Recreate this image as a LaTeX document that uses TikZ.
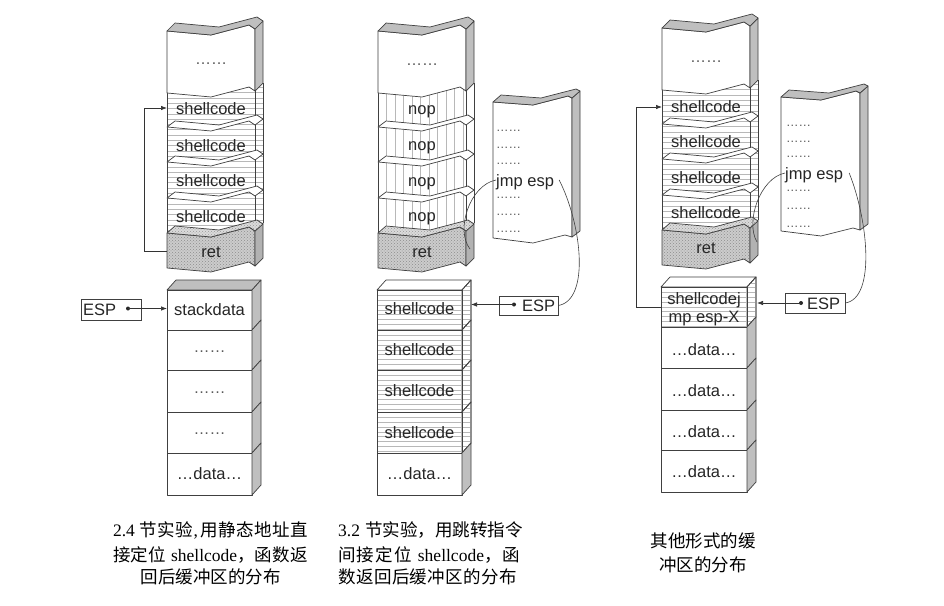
\documentclass[tikz,border=0pt]{standalone}
\usepackage{fontspec}
\setmainfont{Liberation Serif}
\setsansfont{Liberation Sans}
\newfontfamily\cjk{Noto Sans CJK SC}
\newfontfamily\labfont{Liberation Sans}
\usetikzlibrary{patterns,arrows.meta,calc}

\newcommand{\jsep}{\hskip 0pt plus 1fil\relax}
% torn top face band: L, y, depth
\newcommand{\zzband}[3]{(#1,#2) -- ({#1+44},{#2+4}) -- ({#1+82},{#2-6}) -- ({#1+88},{#2-2}) -- ({#1+96},{#2-2-#3}) -- ({#1+90},{#2-6-#3}) -- ({#1+52},{#2+4-#3}) -- ({#1+8},{#2-#3}) -- cycle}
% front face between two torn edges: L, ytop, ybot
\newcommand{\zzfront}[3]{(#1,#2) -- ({#1+44},{#2+4}) -- ({#1+82},{#2-6}) -- ({#1+88},{#2-2}) -- ({#1+88},{#3-2}) -- ({#1+82},{#3-6}) -- ({#1+44},{#3+4}) -- (#1,#3) -- cycle}
% side face: L, ytop, ybot
\newcommand{\zzside}[3]{({#1+88},{#2-2}) -- ({#1+96},{#2-10}) -- ({#1+96},{#3-10}) -- ({#1+88},{#3-2}) -- cycle}

\tikzset{
 outl/.style={draw=black!75, line width=0.7pt, line join=round},
 hatchln/.style={draw=black!28, line width=0.45pt},
 lbl/.style={font=\labfont\fontsize{16.5}{18}\selectfont, text=black!85, inner sep=0pt, text height=12pt, text depth=0pt},
 dotlbl/.style={font=\labfont\fontsize{16}{18}\selectfont, text=black!65, inner sep=0pt},
 smalldot/.style={font=\labfont\fontsize{12.5}{14}\selectfont, text=black!65, inner sep=0pt, anchor=west},
 captxt/.style={font=\fontsize{17.5}{20}\selectfont, inner sep=0pt, anchor=base},
 arr/.style={draw=black!80, line width=0.7pt, -{Latex[length=6pt,width=4.5pt]}},
 link/.style={draw=black!75, line width=0.6pt},
 espbox/.style={draw=black!75, line width=0.7pt, inner sep=0pt},
}

\newcommand{\uppercol}[2]{%
 \begin{scope}
 \clip (#1,80) rectangle ({#1+97},236);
 \ifx h#2
 \foreach \k in {0,...,30} {\draw[hatchln] (#1,{82+5.3*\k}) -- ({#1+96},{82+5.3*\k});}
 \else
 \foreach \k in {1,...,10} {\draw[hatchln] ({#1+8.5*\k},80) -- ({#1+8.5*\k},236);}
 \fi
 \end{scope}
 \draw[outl] (#1,93) -- (#1,233) ({#1+88},91) -- ({#1+88},231) ({#1+96},83) -- ({#1+96},223);
 \foreach \s in {127,162,198} {\filldraw[outl,fill=white] \zzband{#1}{\s}{6};}
 \fill[black!20] \zzfront{#1}{233}{268};
 \fill[pattern=crosshatch dots, pattern color=black!45] \zzfront{#1}{233}{268};
 \draw[outl] \zzfront{#1}{233}{268};
 \filldraw[outl,fill=black!30] \zzside{#1}{233}{268};
 \fill[black!14] \zzband{#1}{233}{7};
 \fill[pattern=crosshatch dots, pattern color=black!40] \zzband{#1}{233}{7};
 \draw[outl] \zzband{#1}{233}{7};
 \filldraw[outl,fill=white] \zzfront{#1}{31}{93};
 \filldraw[outl,fill=black!25] \zzside{#1}{31}{93};
 \filldraw[outl,fill=black!25] \zzband{#1}{31}{8};
}
% lower stack row: L, W, yt, yb, side fill
\newcommand{\lrow}[5]{%
 \filldraw[outl,fill=white] (#1,#3) rectangle ({#1+#2},#4);
 \filldraw[outl,fill=#5] ({#1+#2},#3) -- ({#1+#2+9},{#3-10}) -- ({#1+#2+9},{#4-10}) -- ({#1+#2},#4) -- cycle;}
% hatched lower row
\newcommand{\lhatch}[4]{%
 \filldraw[outl,fill=white] (#1,#3) rectangle ({#1+#2},#4);
 \filldraw[outl,fill=white] ({#1+#2},#3) -- ({#1+#2+9},{#3-10}) -- ({#1+#2+9},{#4-10}) -- ({#1+#2},#4) -- cycle;
 \begin{scope}
 \clip (#1,#3) -- ({#1+#2},#3) -- ({#1+#2+9},{#3-10}) -- ({#1+#2+9},{#4-10}) -- ({#1+#2},#4) -- (#1,#4) -- cycle;
 \foreach \k in {0,...,11} {\draw[hatchln] (#1,{#3-9+4.8*\k}) -- ({#1+#2+10},{#3-9+4.8*\k});}
 \end{scope}
 \draw[outl] (#1,#3) rectangle ({#1+#2},#4);
 \draw[outl] ({#1+#2},#3) -- ({#1+#2+9},{#3-10}) -- ({#1+#2+9},{#4-10}) -- ({#1+#2},#4);}
% top face of lower stack: L, W, yt, fill
\newcommand{\ltop}[4]{%
 \filldraw[outl,fill=#4] (#1,#3) -- ({#1+9},{#3-10}) -- ({#1+#2+9},{#3-10}) -- ({#1+#2},#3) -- cycle;}
% jmp esp block: L, ytop, ybot
\newcommand{\jblock}[3]{%
 \filldraw[outl,fill=white] (#1,#2) -- ({#1+40},{#2+3}) -- ({#1+75},{#2-6}) -- ({#1+79},{#2-4}) -- ({#1+79},{#3-1}) -- ({#1+72},{#3-3}) -- ({#1+40},{#3+5}) -- (#1,#3) -- cycle;
 \filldraw[outl,fill=black!25] ({#1+79},{#2-4}) -- ({#1+87},{#2-11}) -- ({#1+87},{#3-7}) -- ({#1+79},{#3-1}) -- cycle;
 \filldraw[outl,fill=black!25] (#1,#2) -- ({#1+40},{#2+3}) -- ({#1+75},{#2-6}) -- ({#1+79},{#2-4}) -- ({#1+87},{#2-11}) -- ({#1+83},{#2-13}) -- ({#1+48},{#2-4}) -- ({#1+8},{#2-7}) -- cycle;}

\begin{document}
\begin{tikzpicture}[x=1pt,y=-1pt]
\useasboundingbox (0,0) rectangle (944,605);
\fill[white] (0,0) rectangle (944,605);

% ================= Column 1 =================
\uppercol{167}{h}
\node[dotlbl] (c1top) at (211,64) {……};
\node[lbl] (c1s1) at (211,108) {shellcode};
\node[lbl] (c1s2) at (211,145) {shellcode};
\node[lbl] (c1s3) at (211,180) {shellcode};
\node[lbl] (c1s4) at (211,216) {shellcode};
\node[lbl] (c1ret) at (211,251) {ret};
\coordinate (c1retL) at (167,251);
\coordinate (c1s1L) at (167,108);
\draw[arr] (c1retL) -- ++(-23,0) |- (c1s1L);

\ltop{167}{85}{290}{black!25}
\lrow{167}{85}{290}{330}{black!25}
\lrow{167}{85}{330}{370}{black!25}
\lrow{167}{85}{370}{412}{black!25}
\lrow{167}{85}{412}{453}{black!25}
\lrow{167}{85}{453}{495}{black!25}
\node[lbl] (c1sd) at (209.5,309) {stackdata};
\node[dotlbl] (c1d1) at (209.5,352) {……};
\node[dotlbl] (c1d2) at (209.5,393) {……};
\node[dotlbl] (c1d3) at (209.5,434) {……};
\node[lbl] (c1d4) at (209.5,473) {…data…};

\node[espbox, minimum width=60pt, minimum height=21pt] (esp1) at (111,309.5) {};
\node[lbl, anchor=west] (esp1t) at (83,309.5) {ESP};
\coordinate (esp1d) at (128,308.5);
\coordinate (c1sdL) at (167,308.5);
\fill[black!85] (esp1d) circle (2pt);
\draw[arr] (esp1d) -- (c1sdL);

% ================= Column 2 =================
\uppercol{378}{v}
\node[dotlbl] (c2top) at (422,65) {……};
\node[lbl] (c2n1) at (422,108) {nop};
\node[lbl] (c2n2) at (422,144) {nop};
\node[lbl] (c2n3) at (422,180) {nop};
\node[lbl] (c2n4) at (422,215) {nop};
\node[lbl] (c2ret) at (422,251) {ret};

\jblock{493}{102}{238}
\node[smalldot] (j2a) at (496,131) {……};
\node[smalldot] (j2b) at (496,148) {……};
\node[smalldot] (j2c) at (496,164) {……};
\node[lbl, anchor=west] (jmp2) at (496,180) {jmp esp};
\node[smalldot] (j2d) at (496,198) {……};
\node[smalldot] (j2e) at (496,215) {……};
\node[smalldot] (j2f) at (496,232) {……};

\ltop{377}{85}{290}{white}
\lhatch{377}{85}{290}{330}
\lhatch{377}{85}{330}{370}
\lhatch{377}{85}{370}{412}
\lhatch{377}{85}{412}{453}
\lrow{377}{85}{453}{495}{black!25}
\node[lbl] (c2l1) at (419.5,308) {shellcode};
\node[lbl] (c2l2) at (419.5,349) {shellcode};
\node[lbl] (c2l3) at (419.5,390) {shellcode};
\node[lbl] (c2l4) at (419.5,432) {shellcode};
\node[lbl] (c2l5) at (419.5,473) {…data…};

\node[espbox, minimum width=59pt, minimum height=19pt] (esp2) at (528.5,305.5) {};
\node[lbl, anchor=west] (esp2t) at (522,305.5) {ESP};
\coordinate (esp2d) at (514,304.5);
\coordinate (c2l1R) at (471,304.5);
\fill[black!85] (esp2d) circle (2pt);
\draw[arr] (esp2d) -- (c2l1R);

\coordinate (c2retS) at (470,249);
\draw[link] (jmp2.west) .. controls (470,185) and (455,230) .. (c2retS);
\draw[link] ($(jmp2.east)+(5,0)$) .. controls (582,225) and (590,300) .. (esp2.east);

% ================= Column 3 =================
\begin{scope}[shift={(0,-3)}]
\uppercol{662}{h}
\end{scope}
\node[dotlbl] (c3top) at (706,62) {……};
\node[lbl] (c3s1) at (706,106) {shellcode};
\node[lbl] (c3s2) at (706,141) {shellcode};
\node[lbl] (c3s3) at (706,177) {shellcode};
\node[lbl] (c3s4) at (706,212) {shellcode};
\node[lbl] (c3ret) at (706,247) {ret};

\jblock{781}{97}{231}
\node[smalldot] (j3a) at (786,126) {……};
\node[smalldot] (j3b) at (786,142) {……};
\node[smalldot] (j3c) at (786,157) {……};
\node[lbl, anchor=west] (jmp3) at (785,173) {jmp esp};
\node[smalldot] (j3d) at (786,191) {……};
\node[smalldot] (j3e) at (786,209) {……};
\node[smalldot] (j3f) at (786,227) {……};

\ltop{661}{86}{287}{white}
\lhatch{661}{86}{287}{327}
\lrow{661}{86}{327}{368}{black!25}
\lrow{661}{86}{368}{410}{black!25}
\lrow{661}{86}{410}{450}{black!25}
\lrow{661}{86}{450}{492}{black!25}
\node[lbl] (c3l1a) at (704,298) {shellcodej};
\node[lbl] (c3l1b) at (704,316) {mp esp-X};
\node[lbl] (c3l2) at (704,349) {…data…};
\node[lbl] (c3l3) at (704,390) {…data…};
\node[lbl] (c3l4) at (704,431) {…data…};
\node[lbl] (c3l5) at (704,471) {…data…};

\node[espbox, minimum width=60pt, minimum height=20pt] (esp3) at (815,303) {};
\node[lbl, anchor=west] (esp3t) at (807,303) {ESP};
\coordinate (esp3d) at (801,303);
\coordinate (c3l1R) at (757,303);
\fill[black!85] (esp3d) circle (2pt);
\draw[arr] (esp3d) -- (c3l1R);

\coordinate (c3l1L) at (661,307);
\coordinate (c3s1L) at (662,107);
\draw[arr] (c3l1L) -- ++(-25,0) |- (c3s1L);

\coordinate (c3retS) at (757,242);
\draw[link] (jmp3.west) .. controls (760,178) and (745,222) .. (c3retS);
\draw[link] ($(jmp3.east)+(6,0)$) .. controls (868,220) and (876,298) .. (esp3.east);

% ================= Captions =================
\node[captxt] (cap1a) at (210.5,536) {\makebox[195pt][s]{2.4\hskip 5pt{\cjk 节\jsep 实\jsep 验}\jsep ,\hskip 3pt{\cjk 用\jsep 静\jsep 态\jsep 地\jsep 址\jsep 直}}};
\node[captxt] (cap1b) at (210.5,561) {\makebox[195pt][s]{{\cjk 接\jsep 定\jsep 位}\hskip 5pt shellcode{\cjk ，\jsep 函\jsep 数\jsep 返}}};
\node[captxt] (cap1c) at (210.5,583.5) {\cjk 回后缓冲区的分布};

\node[captxt, anchor=base west] (cap2a) at (338,536) {\makebox[182pt][s]{3.2\hskip 5pt{\cjk 节\jsep 实\jsep 验\jsep ，\jsep 用\jsep 跳\jsep 转\jsep 指\jsep 令}}};
\node[captxt, anchor=base west] (cap2b) at (338,561) {\makebox[182pt][s]{{\cjk 间\jsep 接\jsep 定\jsep 位}\hskip 5pt\jsep shellcode{\cjk ，\jsep 函}}};
\node[captxt, anchor=base west] (cap2c) at (338,583.5) {\makebox[179pt][s]{\cjk 数\jsep 返\jsep 回\jsep 后\jsep 缓\jsep 冲\jsep 区\jsep 的\jsep 分\jsep 布}};

\node[captxt] (cap3a) at (703,547) {\cjk 其他形式的缓};
\node[captxt] (cap3b) at (703,571) {\cjk 冲区的分布};
\end{tikzpicture}
\end{document}
